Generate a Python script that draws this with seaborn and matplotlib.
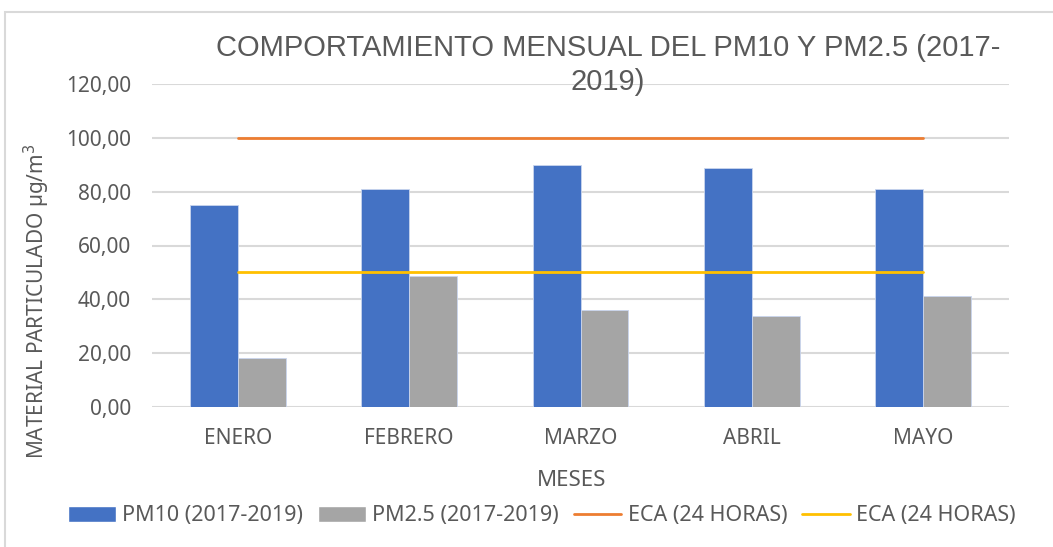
import numpy as np
import pandas as pd
import seaborn as sns
import matplotlib.pyplot as plt
from matplotlib.patches import Patch, Rectangle
from matplotlib.lines import Line2D

meses = ["ENERO", "FEBRERO", "MARZO", "ABRIL", "MAYO"]
pm10 = [75.2, 81.1, 90.0, 88.9, 80.9]
pm25 = [18.1, 48.5, 35.9, 33.9, 41.1]
eca_pm10 = [100, 100, 100, 100, 100]
eca_pm25 = [50, 50, 50, 50, 50]
series = ["PM10 (2017-2019)", "PM2.5 (2017-2019)"]
yticks = [0, 20, 40, 60, 80, 100, 120]

blue = "#4472C4"
gray = "#A5A5A5"
orange = "#ED7D31"
yellow = "#FFC000"
txt = "#595959"

sns.set_theme(style="white")
plt.rcParams['font.family'] = ['Noto Sans', 'DejaVu Sans']

df = pd.DataFrame({
    "mes": meses * 2,
    "valor": pm10 + pm25,
    "serie": [series[0]] * len(meses) + [series[1]] * len(meses),
})

fig = plt.figure(figsize=(10.53, 5.47), dpi=100)
ax = fig.add_axes([152 / 1053, 1 - 407 / 547, (1009 - 152) / 1053, (407 - 84) / 547])

# chart border
fig.patches.append(Rectangle((5 / 1053, -0.1), 1.2, 1 - 12 / 547 + 0.1,
                             transform=fig.transFigure, fill=False,
                             edgecolor="#d9d9d9", linewidth=1.5))

sns.barplot(data=df, x="mes", y="valor", hue="serie", order=meses,
            palette=[blue, gray], saturation=1, width=0.56, gap=0, ax=ax,
            edgecolor="#c9d5ee", linewidth=0.6, legend=False)

x = np.arange(len(meses))
sns.lineplot(x=x, y=eca_pm10, color=orange, linewidth=2, ax=ax)
sns.lineplot(x=x, y=eca_pm25, color=yellow, linewidth=2, ax=ax)

ax.set_ylim(0, 120)
ax.set_xlim(-0.5, len(meses) - 0.5)
ax.set_yticks(yticks)
ax.set_yticklabels([f"{v:.2f}".replace(".", ",") for v in yticks])
ax.set_xticks(x)
ax.set_xticklabels(meses)
ax.yaxis.grid(True, color="#d9d9d9", linewidth=1.5)
ax.set_axisbelow(True)
for s in ax.spines.values():
    s.set_visible(False)
ax.tick_params(axis="both", length=0, labelsize=15, colors=txt)
ax.tick_params(axis="x", pad=15)
ax.tick_params(axis="y", pad=15)
ax.set_xlabel("")
ax.set_ylabel("")

fig.text(608 / 1053, 1 - 34 / 547,
         "COMPORTAMIENTO MENSUAL DEL PM10 Y PM2.5 (2017-\n2019)",
         ha="center", va="top", fontsize=21, color=txt,
         family=["Liberation Sans", "DejaVu Sans"], linespacing=1.25)
fig.text(37 / 1053, 1 - 301 / 547, "MATERIAL PARTICULADO µg/m$^3$",
         rotation=90, ha="center", va="center", fontsize=15, color=txt)
fig.text(572 / 1053, 1 - 480 / 547, "MESES", ha="center", va="center",
         fontsize=16, color=txt)

handles = [Patch(facecolor=blue), Patch(facecolor=gray),
           Line2D([], [], color=orange, linewidth=2),
           Line2D([], [], color=yellow, linewidth=2)]
labels = series + ["ECA (24 HORAS)", "ECA (24 HORAS)"]
leg = fig.legend(handles, labels, loc="center", ncol=4,
                 bbox_to_anchor=(542 / 1053, 1 - 516 / 547), frameon=False,
                 fontsize=15.5, handlelength=2.2, handleheight=0.75,
                 handletextpad=0.3, columnspacing=0.7)
for t in leg.get_texts():
    t.set_color(txt)

fig.savefig("out.png", dpi=100)
